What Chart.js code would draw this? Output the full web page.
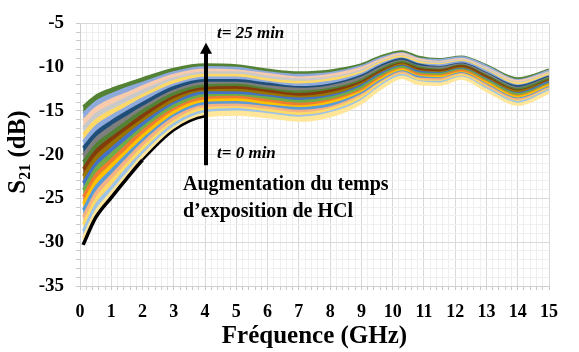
<!DOCTYPE html>
<html>
<head>
<meta charset="utf-8">
<script src="https://cdn.jsdelivr.net/npm/chart.js@4.4.1/dist/chart.umd.min.js"></script>
<style>
  html, body { margin: 0; padding: 0; background: #fff; }
  #wrap { width: 579px; height: 352px; }
</style>
</head>
<body>
<div id="wrap"><canvas id="s21Plot" width="579" height="352"></canvas></div>
<script>
// frequency points (GHz)
const freqs = [0.1, 0.5, 1, 1.5, 2, 3, 4, 5, 6, 7, 8, 9, 9.6, 10.3, 10.8, 11.5, 12.2, 13, 14, 15];

// S21 (dB) curves, from t = 0 min (bottom) to t = 25 min (top)
const s21_t00 = [-30.3,-27.2,-24.9,-22.7,-20.6,-17.2,-15.6,-15.4,-15.7,-16.1,-15.6,-14.1,-12.5,-11.2,-11.9,-12.0,-11.3,-12.7,-14.3,-12.9];
const s21_t01 = [-29.5,-26.5,-24.3,-22.2,-20.1,-16.9,-15.3,-15.1,-15.4,-15.8,-15.3,-13.9,-12.3,-11.1,-11.7,-11.9,-11.2,-12.6,-14.2,-12.8];
const s21_t02 = [-28.7,-25.8,-23.7,-21.6,-19.7,-16.5,-15.0,-14.8,-15.2,-15.6,-15.1,-13.7,-12.1,-10.9,-11.6,-11.7,-11.1,-12.4,-14.0,-12.6];
const s21_t03 = [-27.9,-25.1,-23.0,-21.1,-19.2,-16.2,-14.7,-14.6,-14.9,-15.3,-14.8,-13.4,-11.9,-10.8,-11.4,-11.6,-10.9,-12.3,-13.9,-12.5];
const s21_t04 = [-27.1,-24.4,-22.4,-20.5,-18.7,-15.8,-14.4,-14.3,-14.6,-15.0,-14.6,-13.2,-11.8,-10.6,-11.3,-11.4,-10.8,-12.1,-13.7,-12.4];
const s21_t05 = [-26.3,-23.7,-21.8,-20.0,-18.3,-15.5,-14.1,-14.0,-14.4,-14.7,-14.3,-13.0,-11.6,-10.5,-11.1,-11.3,-10.7,-12.0,-13.6,-12.3];
const s21_t06 = [-25.6,-23.0,-21.2,-19.5,-17.8,-15.1,-13.8,-13.7,-14.1,-14.5,-14.0,-12.8,-11.4,-10.3,-11.0,-11.1,-10.6,-11.8,-13.4,-12.1];
const s21_t07 = [-24.8,-22.3,-20.6,-18.9,-17.3,-14.8,-13.5,-13.4,-13.8,-14.2,-13.8,-12.6,-11.2,-10.2,-10.8,-11.0,-10.4,-11.7,-13.3,-12.0];
const s21_t08 = [-24.0,-21.6,-19.9,-18.4,-16.9,-14.4,-13.2,-13.2,-13.5,-13.9,-13.5,-12.3,-11.0,-10.0,-10.7,-10.8,-10.3,-11.5,-13.1,-11.9];
const s21_t09 = [-23.2,-21.0,-19.3,-17.8,-16.4,-14.1,-12.9,-12.9,-13.3,-13.6,-13.3,-12.1,-10.8,-9.9,-10.5,-10.7,-10.2,-11.4,-13.0,-11.7];
const s21_t10 = [-22.4,-20.3,-18.7,-17.3,-16.0,-13.7,-12.7,-12.6,-13.0,-13.4,-13.0,-11.9,-10.7,-9.7,-10.4,-10.6,-10.1,-11.3,-12.8,-11.6];
const s21_t11 = [-21.6,-19.6,-18.1,-16.8,-15.5,-13.4,-12.4,-12.3,-12.7,-13.1,-12.7,-11.7,-10.5,-9.6,-10.2,-10.4,-9.9,-11.1,-12.7,-11.5];
const s21_t12 = [-20.8,-18.9,-17.5,-16.2,-15.0,-13.0,-12.1,-12.0,-12.5,-12.8,-12.5,-11.5,-10.3,-9.4,-10.0,-10.3,-9.8,-11.0,-12.5,-11.3];
const s21_t13 = [-20.0,-18.2,-16.8,-15.7,-14.6,-12.7,-11.8,-11.8,-12.2,-12.5,-12.2,-11.2,-10.1,-9.3,-9.9,-10.1,-9.7,-10.8,-12.4,-11.2];
const s21_t14 = [-19.2,-17.5,-16.2,-15.1,-14.1,-12.3,-11.5,-11.5,-11.9,-12.3,-12.0,-11.0,-9.9,-9.1,-9.7,-10.0,-9.6,-10.7,-12.2,-11.1];
const s21_t15 = [-18.5,-16.8,-15.6,-14.6,-13.6,-12.0,-11.2,-11.2,-11.7,-12.0,-11.7,-10.8,-9.7,-9.0,-9.6,-9.8,-9.4,-10.5,-12.1,-11.0];
const s21_t16 = [-17.7,-16.1,-15.0,-14.1,-13.2,-11.6,-10.9,-10.9,-11.4,-11.7,-11.4,-10.6,-9.5,-8.8,-9.4,-9.7,-9.3,-10.4,-11.9,-10.8];
const s21_t17 = [-16.9,-15.4,-14.4,-13.5,-12.7,-11.3,-10.6,-10.6,-11.1,-11.4,-11.2,-10.4,-9.4,-8.7,-9.3,-9.5,-9.2,-10.2,-11.8,-10.7];
const s21_t18 = [-16.1,-14.7,-13.7,-13.0,-12.2,-10.9,-10.3,-10.4,-10.8,-11.2,-10.9,-10.1,-9.2,-8.5,-9.1,-9.4,-9.1,-10.1,-11.6,-10.6];
const s21_t19 = [-15.3,-14.0,-13.1,-12.4,-11.8,-10.6,-10.0,-10.1,-10.6,-10.9,-10.7,-9.9,-9.0,-8.4,-9.0,-9.2,-8.9,-9.9,-11.5,-10.4];
const s21_t20 = [-14.5,-13.3,-12.5,-11.9,-11.3,-10.2,-9.7,-9.8,-10.3,-10.6,-10.4,-9.7,-8.8,-8.2,-8.8,-9.1,-8.8,-9.8,-11.3,-10.3];

const curves = [s21_t00, s21_t01, s21_t02, s21_t03, s21_t04, s21_t05, s21_t06, s21_t07, s21_t08, s21_t09, s21_t10,
                s21_t11, s21_t12, s21_t13, s21_t14, s21_t15, s21_t16, s21_t17, s21_t18, s21_t19, s21_t20];

// excel-ish colours, bottom to top
const colors = ['#000000', '#FFE699', '#9DC3E6', '#FFD966', '#F4B183', '#5B9BD5', '#FFC000', '#ED7D31',
                '#70AD47', '#4472C4', '#997300', '#843C0C', '#548235', '#7F7F7F', '#1F4E79', '#8FAADC',
                '#FFD966', '#C9C9C9', '#F8CBAD', '#8EA9DB', '#548235'];

const serif = "'Liberation Serif', 'Times New Roman', serif";

const datasets = curves.map(function (c, i) {
    const ds = {
        label: 't' + i,
        data: freqs.map(function (f, j) { return { x: f, y: c[j] }; }),
        borderColor: colors[i],
        backgroundColor: colors[i],
        borderWidth: 2.5,
        pointRadius: 0,
        cubicInterpolationMode: 'monotone',
        fill: i === 0 ? false : '-1'
    };
    if (i === 0) {
        // the t=0 curve only shows black at low frequency
        ds.segment = {
            borderColor: function (s) { return s.p0.parsed.x < 4 ? '#000000' : '#FFE699'; },
            borderWidth: function (s) { return s.p0.parsed.x < 2 ? 3.5 : 2.5; }
        };
    }
    return ds;
});

// arrow, notes and y title
const notesPlugin = {
    id: 'notes',
    afterDraw: function (chart) {
        const ctx = chart.ctx;
        const xs = chart.scales.x, ys = chart.scales.y;
        const ax = xs.getPixelForValue(4.03);
        const yTop = ys.getPixelForValue(-7.2);
        const yBot = ys.getPixelForValue(-21.2);
        ctx.save();
        ctx.strokeStyle = '#000';
        ctx.fillStyle = '#000';
        ctx.lineWidth = 4;
        ctx.beginPath();
        ctx.moveTo(ax, yBot);
        ctx.lineTo(ax, yTop + 9);
        ctx.stroke();
        ctx.beginPath();
        ctx.moveTo(ax, yTop);
        ctx.lineTo(ax - 6, yTop + 11);
        ctx.lineTo(ax + 6, yTop + 11);
        ctx.closePath();
        ctx.fill();

        ctx.textAlign = 'left';
        ctx.textBaseline = 'alphabetic';
        ctx.font = 'italic bold 17px ' + serif;
        ctx.fillText('t= 25 min', 217, 38);
        ctx.fillText('t= 0 min', 217, 158);
        ctx.font = 'bold 20px ' + serif;
        ctx.fillText('Augmentation du temps', 183, 190);
        ctx.fillText('d\u2019exposition de HCl', 183, 217);

        // S21 (dB), rotated
        ctx.translate(25, 152);
        ctx.rotate(-Math.PI / 2);
        ctx.font = 'bold 25px ' + serif;
        const wS = ctx.measureText('S').width;
        ctx.font = 'bold 16px ' + serif;
        const wSub = ctx.measureText('21').width;
        ctx.font = 'bold 25px ' + serif;
        const wRest = ctx.measureText(' (dB)').width;
        let x0 = -(wS + wSub + wRest) / 2;
        ctx.fillText('S', x0, 0);
        ctx.font = 'bold 16px ' + serif;
        ctx.fillText('21', x0 + wS, 5);
        ctx.font = 'bold 25px ' + serif;
        ctx.fillText(' (dB)', x0 + wS + wSub, 0);
        ctx.restore();
    }
};

function isMajor(v, step) {
    const r = v / step;
    return Math.abs(r - Math.round(r)) < 1e-6;
}

new Chart(document.getElementById('s21Plot').getContext('2d'), {
    type: 'line',
    data: { datasets: datasets },
    options: {
        responsive: false,
        animation: false,
        layout: { padding: { top: 16, right: 30, left: 0, bottom: 0 } },
        plugins: {
            legend: { display: false },
            tooltip: { enabled: false },
            title: { display: false }
        },
        scales: {
            x: {
                type: 'linear',
                min: 0,
                max: 15,
                afterFit: function (s) { s.height = 66; },
                border: { color: '#cfcfcf' },
                grid: {
                    color: function (c) { return isMajor(c.tick.value, 1) ? '#d9d9d9' : '#efefef'; },
                    tickColor: '#c8c8c8',
                    tickLength: 4
                },
                ticks: {
                    stepSize: 0.2,
                    autoSkip: false,
                    maxRotation: 0,
                    padding: 12,
                    color: '#000',
                    font: { family: serif, size: 18, weight: 'bold' },
                    callback: function (v) { return isMajor(v, 1) ? String(Math.round(v)) : ''; }
                },
                title: {
                    display: true,
                    text: 'Fréquence (GHz)',
                    color: '#000',
                    font: { family: serif, size: 25, weight: 'bold' },
                    padding: { top: 0, bottom: 0 }
                }
            },
            y: {
                type: 'linear',
                min: -35,
                max: -5,
                afterFit: function (s) { s.width = 80; },
                border: { color: '#cfcfcf' },
                grid: {
                    color: function (c) { return isMajor(c.tick.value, 5) ? '#d9d9d9' : '#efefef'; },
                    tickColor: '#c8c8c8',
                    tickLength: 4
                },
                ticks: {
                    stepSize: 1,
                    autoSkip: false,
                    padding: 12,
                    color: '#000',
                    font: { family: serif, size: 19, weight: 'bold' },
                    callback: function (v) { return isMajor(v, 5) ? String(Math.round(v)) : ''; }
                }
            }
        }
    },
    plugins: [notesPlugin]
});
</script>
</body>
</html>
